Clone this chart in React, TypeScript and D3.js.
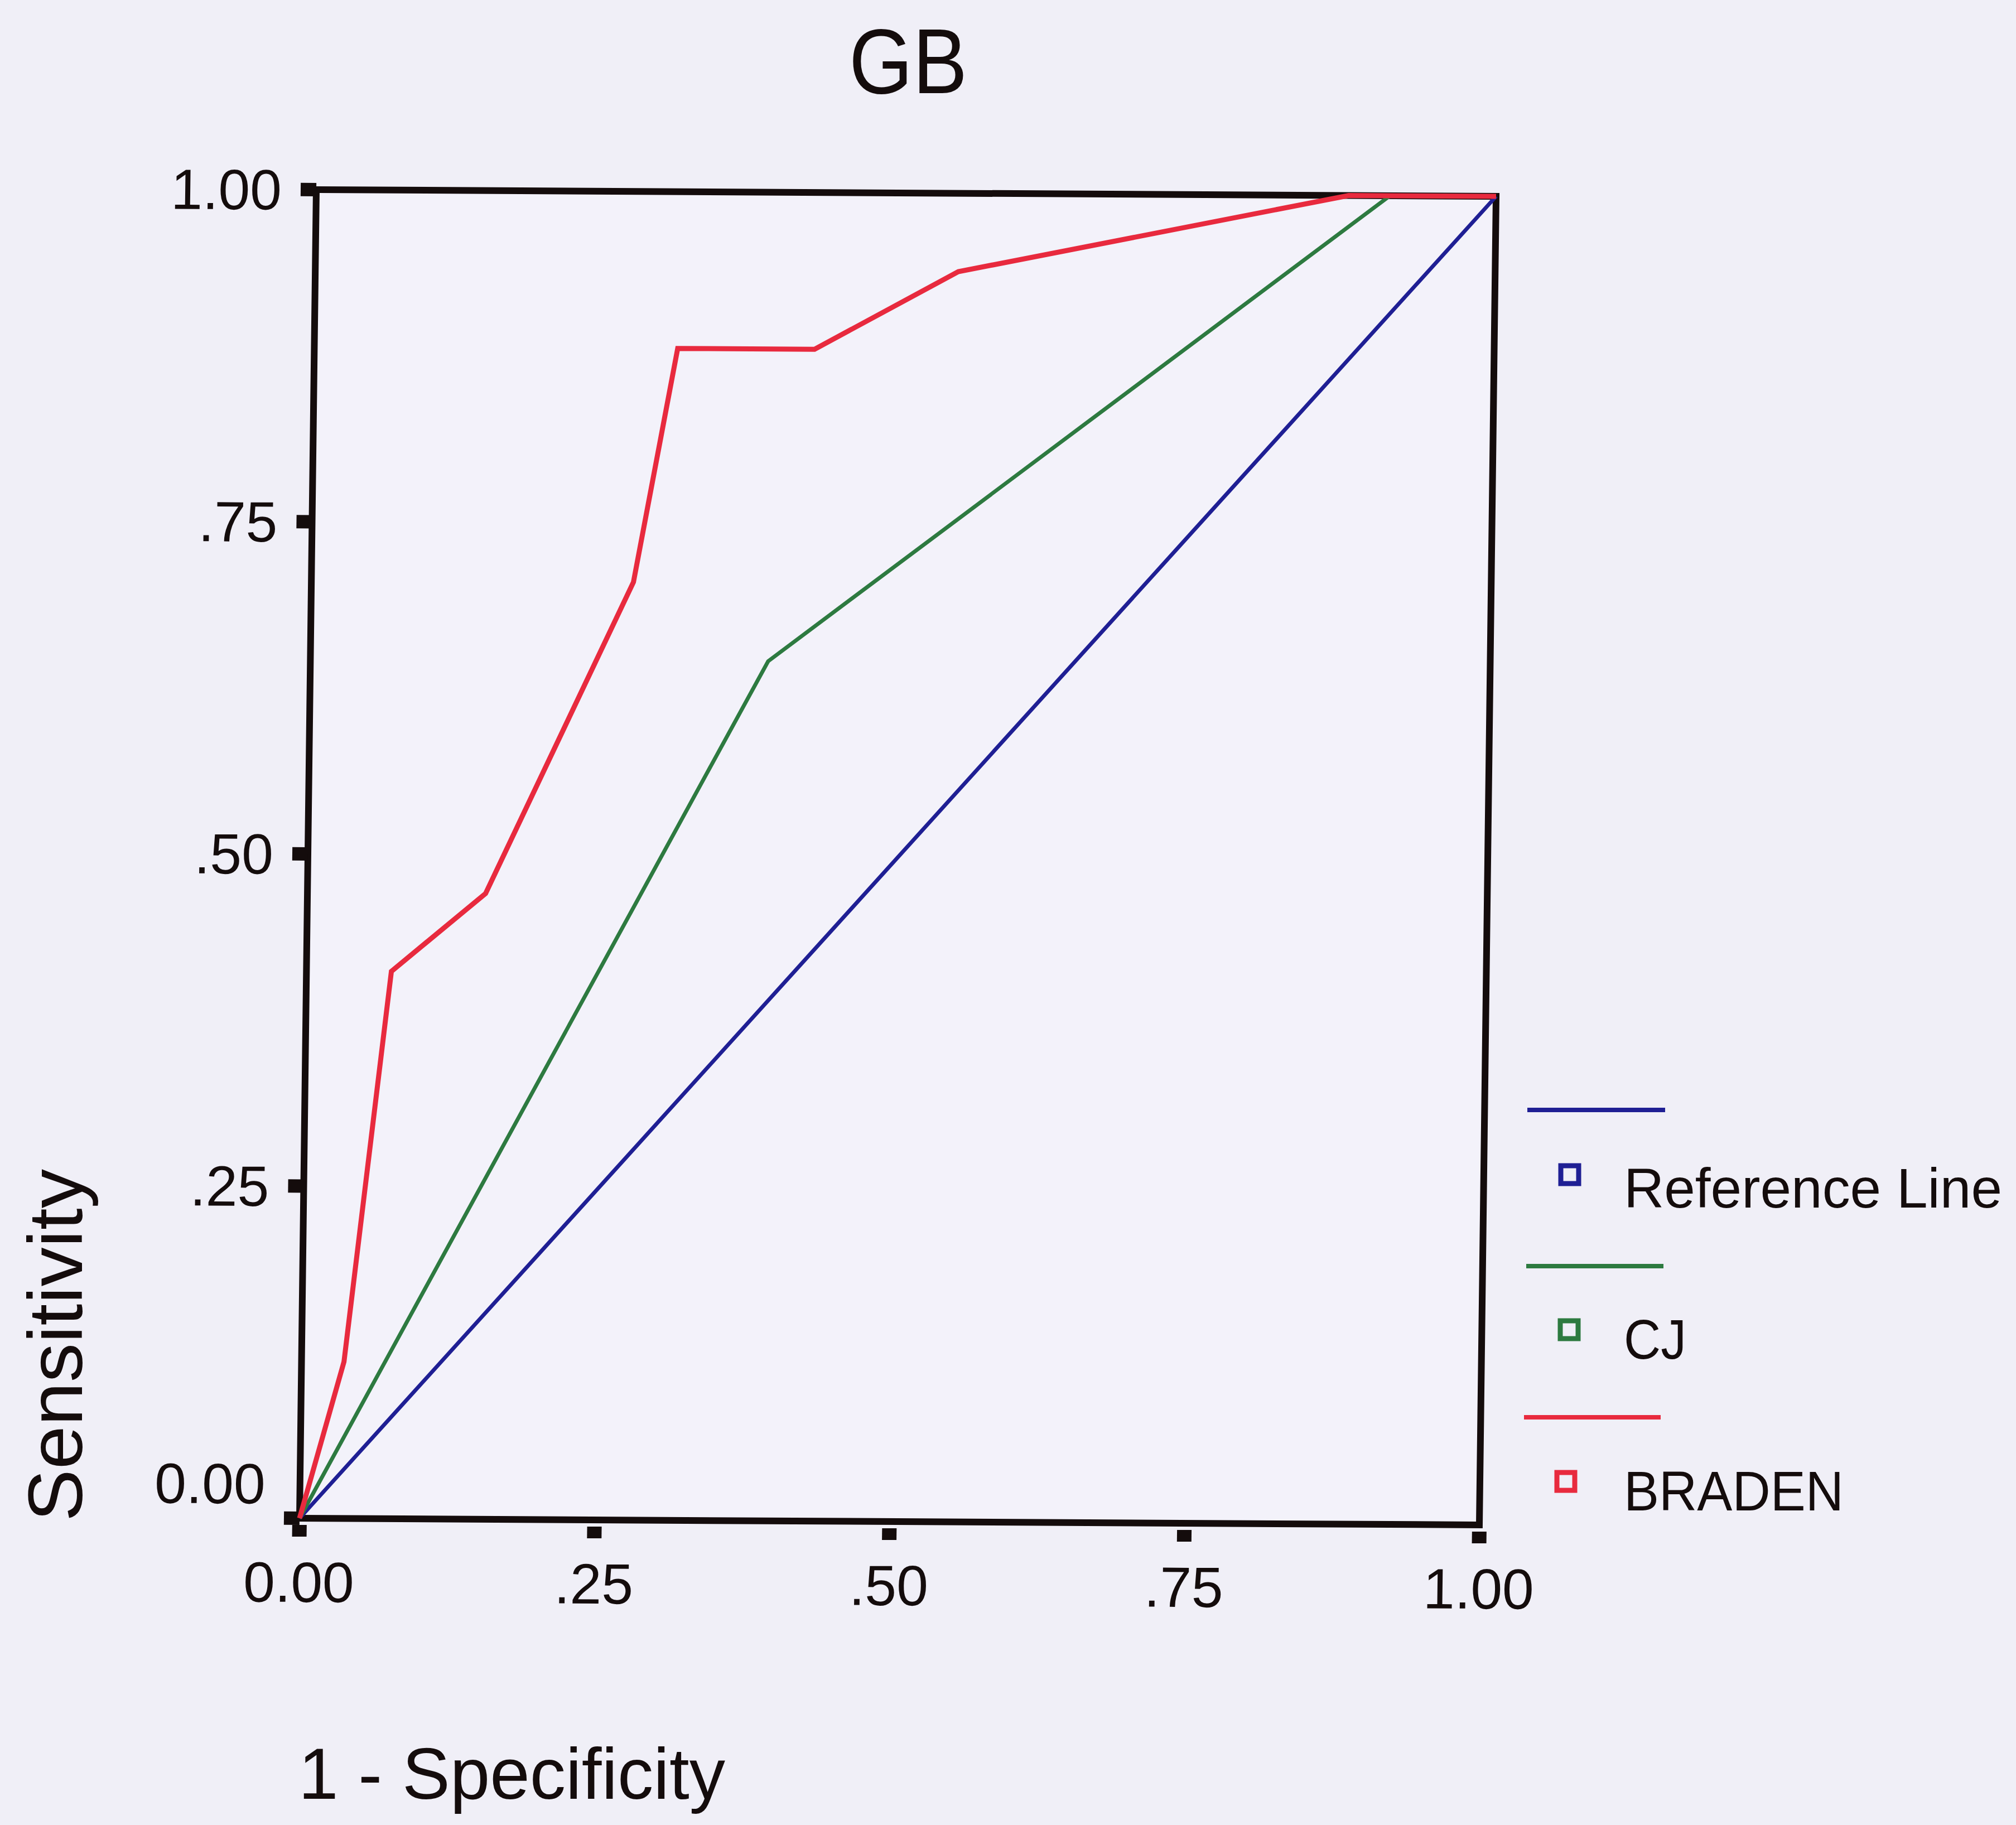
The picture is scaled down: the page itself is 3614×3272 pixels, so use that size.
import React from 'react';
import * as d3 from 'd3';

// ROC curves: 1 - specificity (x) against sensitivity (y)
const tickValues = [0, 0.25, 0.5, 0.75, 1];
const tickLabels = ['0.00', '.25', '.50', '.75', '1.00'];

const referenceFpr = [0, 1];
const referenceTpr = [0, 1];

const cjFpr = [0, 0.388, 0.91, 1];
const cjTpr = [0, 0.647, 1, 1];

const bradenFpr = [0, 0.036, 0.072, 0.151, 0.273, 0.308, 0.424, 0.545, 0.875, 1];
const bradenTpr = [0, 0.118, 0.412, 0.471, 0.706, 0.882, 0.882, 0.941, 1, 1];

const seriesNames = ['Reference Line', 'CJ', 'BRADEN'];
const seriesColors = ['#1f1f94', '#2d7a40', '#e82a3e'];

const W = 3614;
const H = 3272;
const FONT = '"Liberation Sans", Arial, Helvetica, sans-serif';

const plot = { left: 567, top: 340, right: 2682, bottom: 2722 };
// slight shear of the whole plotting frame
const shearX = -0.0126;
const shearY = 0.00567;
const frameTransform = `matrix(1, ${shearY}, ${shearX}, 1, ${-shearX * plot.top}, ${-shearY * plot.left})`;

export default function App() {
  const x = d3.scaleLinear().domain([0, 1]).range([plot.left, plot.right]);
  const y = d3.scaleLinear().domain([0, 1]).range([plot.bottom, plot.top]);

  const line = d3
    .line<[number, number]>()
    .x((d) => x(d[0]))
    .y((d) => y(d[1]));

  const series = [
    { fpr: referenceFpr, tpr: referenceTpr, width: 7 },
    { fpr: cjFpr, tpr: cjTpr, width: 7 },
    { fpr: bradenFpr, tpr: bradenTpr, width: 9 },
  ];

  const legendRows = [
    { lineY: 1990, lineX0: 2738, lineX1: 2985, boxX: 2798, boxY: 2090, textY: 2165, textLen: 678 },
    { lineY: 2270, lineX0: 2736, lineX1: 2982, boxX: 2797, boxY: 2368, textY: 2436, textLen: 112 },
    { lineY: 2541, lineX0: 2732, lineX1: 2977, boxX: 2791, boxY: 2640, textY: 2708, textLen: 394 },
  ];

  return (
    <svg
      width={W}
      height={H}
      viewBox={`0 0 ${W} ${H}`}
      style={{ position: 'absolute', left: 0, top: 0, display: 'block' }}
    >
      <rect x={0} y={0} width={W} height={H} fill="#f0eff7" />

      {/* title */}
      <text
        x={1628}
        y={167}
        fontFamily={FONT}
        fontSize={165}
        textAnchor="middle"
        textLength={212}
        lengthAdjust="spacingAndGlyphs"
        fill="#140c0c"
      >
        GB
      </text>

      <g transform={frameTransform}>
        {/* frame */}
        <rect
          x={plot.left}
          y={plot.top}
          width={plot.right - plot.left}
          height={plot.bottom - plot.top}
          fill="#f3f2fa"
          stroke="#140c0c"
          strokeWidth={12}
        />

        {/* y ticks and labels */}
        {tickValues.map((v, i) => (
          <g key={`y${i}`}>
            <rect x={plot.left - 28} y={y(v) - 12} width={28} height={24} fill="#140c0c" />
            <text
              x={plot.left - 62}
              y={v === 0 ? y(v) - 26 : y(v) + 36}
              fontFamily={FONT}
              fontSize={102}
              textAnchor="end"
              fill="#140c0c"
            >
              {tickLabels[i]}
            </text>
          </g>
        ))}

        {/* x ticks and labels */}
        {tickValues.map((v, i) => (
          <g key={`x${i}`}>
            <rect x={x(v) - 13} y={plot.bottom + 12} width={26} height={21} fill="#140c0c" />
            <text
              x={x(v)}
              y={plot.bottom + 150}
              fontFamily={FONT}
              fontSize={102}
              textAnchor="middle"
              fill="#140c0c"
            >
              {tickLabels[i]}
            </text>
          </g>
        ))}

        {/* curves */}
        {series.map((s, i) => (
          <path
            key={`s${i}`}
            d={line(s.fpr.map((f, j) => [f, s.tpr[j]] as [number, number])) || ''}
            fill="none"
            stroke={seriesColors[i]}
            strokeWidth={s.width}
            strokeLinejoin="miter"
          />
        ))}
      </g>

      {/* axis titles */}
      <text
        x={535}
        y={3225}
        fontFamily={FONT}
        fontSize={130}
        textLength={765}
        lengthAdjust="spacingAndGlyphs"
        fill="#140c0c"
      >
        1 - Specificity
      </text>
      <text
        transform="translate(147, 2728) rotate(-90)"
        fontFamily={FONT}
        fontSize={138}
        textLength={632}
        lengthAdjust="spacingAndGlyphs"
        fill="#140c0c"
      >
        Sensitivity
      </text>

      {/* legend */}
      {legendRows.map((r, i) => (
        <g key={`l${i}`}>
          <line x1={r.lineX0} x2={r.lineX1} y1={r.lineY} y2={r.lineY} stroke={seriesColors[i]} strokeWidth={8} />
          <rect x={r.boxX} y={r.boxY} width={32} height={32} fill="none" stroke={seriesColors[i]} strokeWidth={9} />
          <text
            x={2911}
            y={r.textY}
            fontFamily={FONT}
            fontSize={100}
            textLength={r.textLen}
            lengthAdjust="spacingAndGlyphs"
            fill="#140c0c"
          >
            {seriesNames[i]}
          </text>
        </g>
      ))}
    </svg>
  );
}
